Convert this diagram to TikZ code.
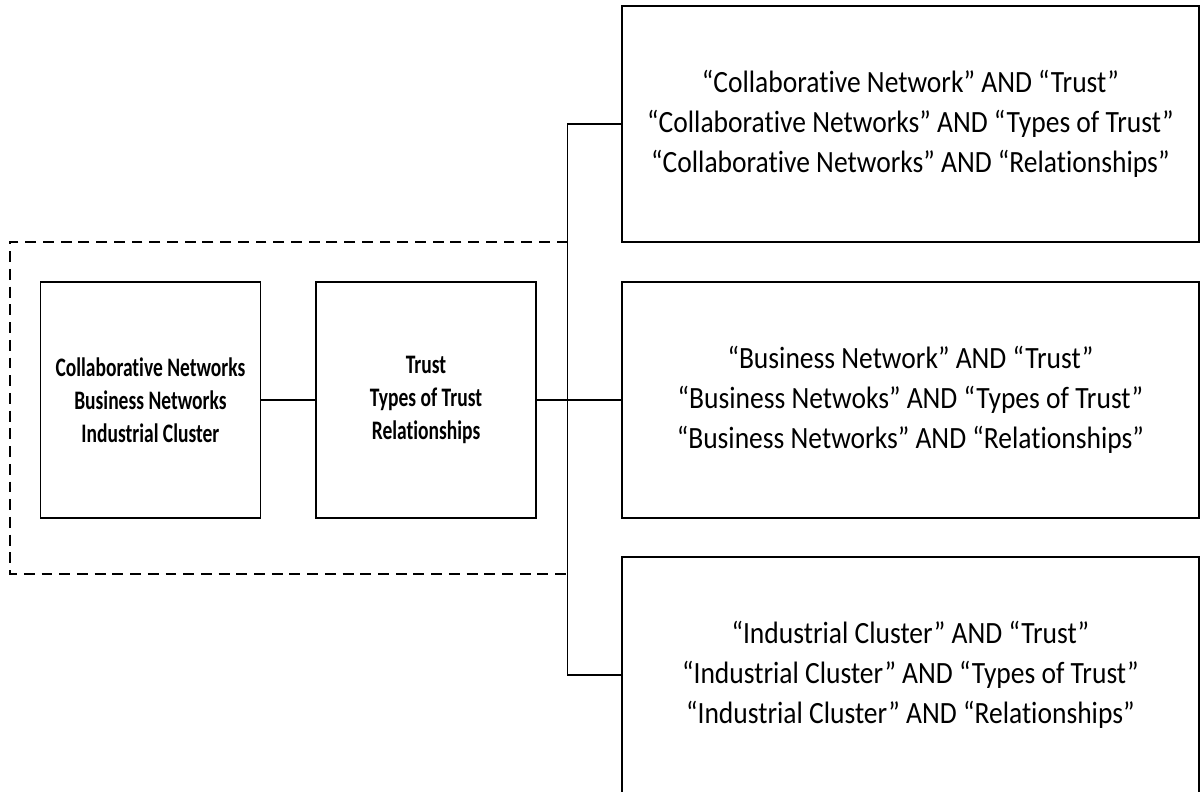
\documentclass[tikz,border=0pt]{standalone}
\usepackage{fontspec}
\setmainfont{Carlito}
\newfontfamily\termfont[FakeStretch=0.73,Ligatures=NoCommon]{Carlito}
\newfontfamily\queryfont[FakeStretch=0.89,Ligatures=NoCommon]{Carlito}
\usepackage{tikz}
\usetikzlibrary{calc}

\tikzset{
  termbox/.style = {draw, line width=1.1pt, rectangle, inner sep=0pt,
                    minimum width=5.5cm, minimum height=5.9cm, align=center,
                    font=\termfont\bfseries\fontsize{19}{23.5}\selectfont},
  querybox/.style = {draw, line width=1.1pt, rectangle, inner sep=0pt,
                     minimum width=14.425cm, minimum height=5.9cm, align=center,
                     font=\queryfont\fontsize{22}{28.5}\selectfont},
  link/.style = {line width=1.1pt},
  groupline/.style = {line width=1.1pt, dash pattern=on 7.8pt off 4.8pt}
}

\begin{document}
\begin{tikzpicture}
  \useasboundingbox (0,0) rectangle (30,19.775);
  % draw search terms
  \node (networks) at (3.76,9.775) [termbox]
        {Collaborative Networks\\Business Networks\\Industrial Cluster};
  \node (trust) at (10.65,9.775) [termbox]
        {Trust\\Types of Trust\\Relationships};
  % draw search strings
  \node (collab) at (22.76,16.675) [querybox]
        {“Collaborative Network” AND “Trust”\\
         “Collaborative Networks” AND “Types of Trust”\\
         “Collaborative Networks” AND “Relationships”};
  \node (business) at (22.76,9.775) [querybox]
        {“Business Network” AND “Trust”\\
         “Business Netwoks” AND “Types of Trust”\\
         “Business Networks” AND “Relationships”};
  \node (cluster) at (22.76,2.9) [querybox]
        {“Industrial Cluster” AND “Trust”\\
         “Industrial Cluster” AND “Types of Trust”\\
         “Industrial Cluster” AND “Relationships”};
  % draw connectors
  \coordinate (split) at (14.19,9.775);
  \coordinate (grouptop) at (14.19,13.725);
  \coordinate (groupbot) at (14.19,5.425);
  \draw[link] (networks) -- (trust);
  \draw[link] (trust) -- (business);
  \draw[link] (collab.west) -| (split) |- (cluster.west);
  % draw dashed group
  \draw[groupline] (grouptop) -- (0.25,13.725) -- (0.25,5.425) -- (groupbot);
\end{tikzpicture}
\end{document}
